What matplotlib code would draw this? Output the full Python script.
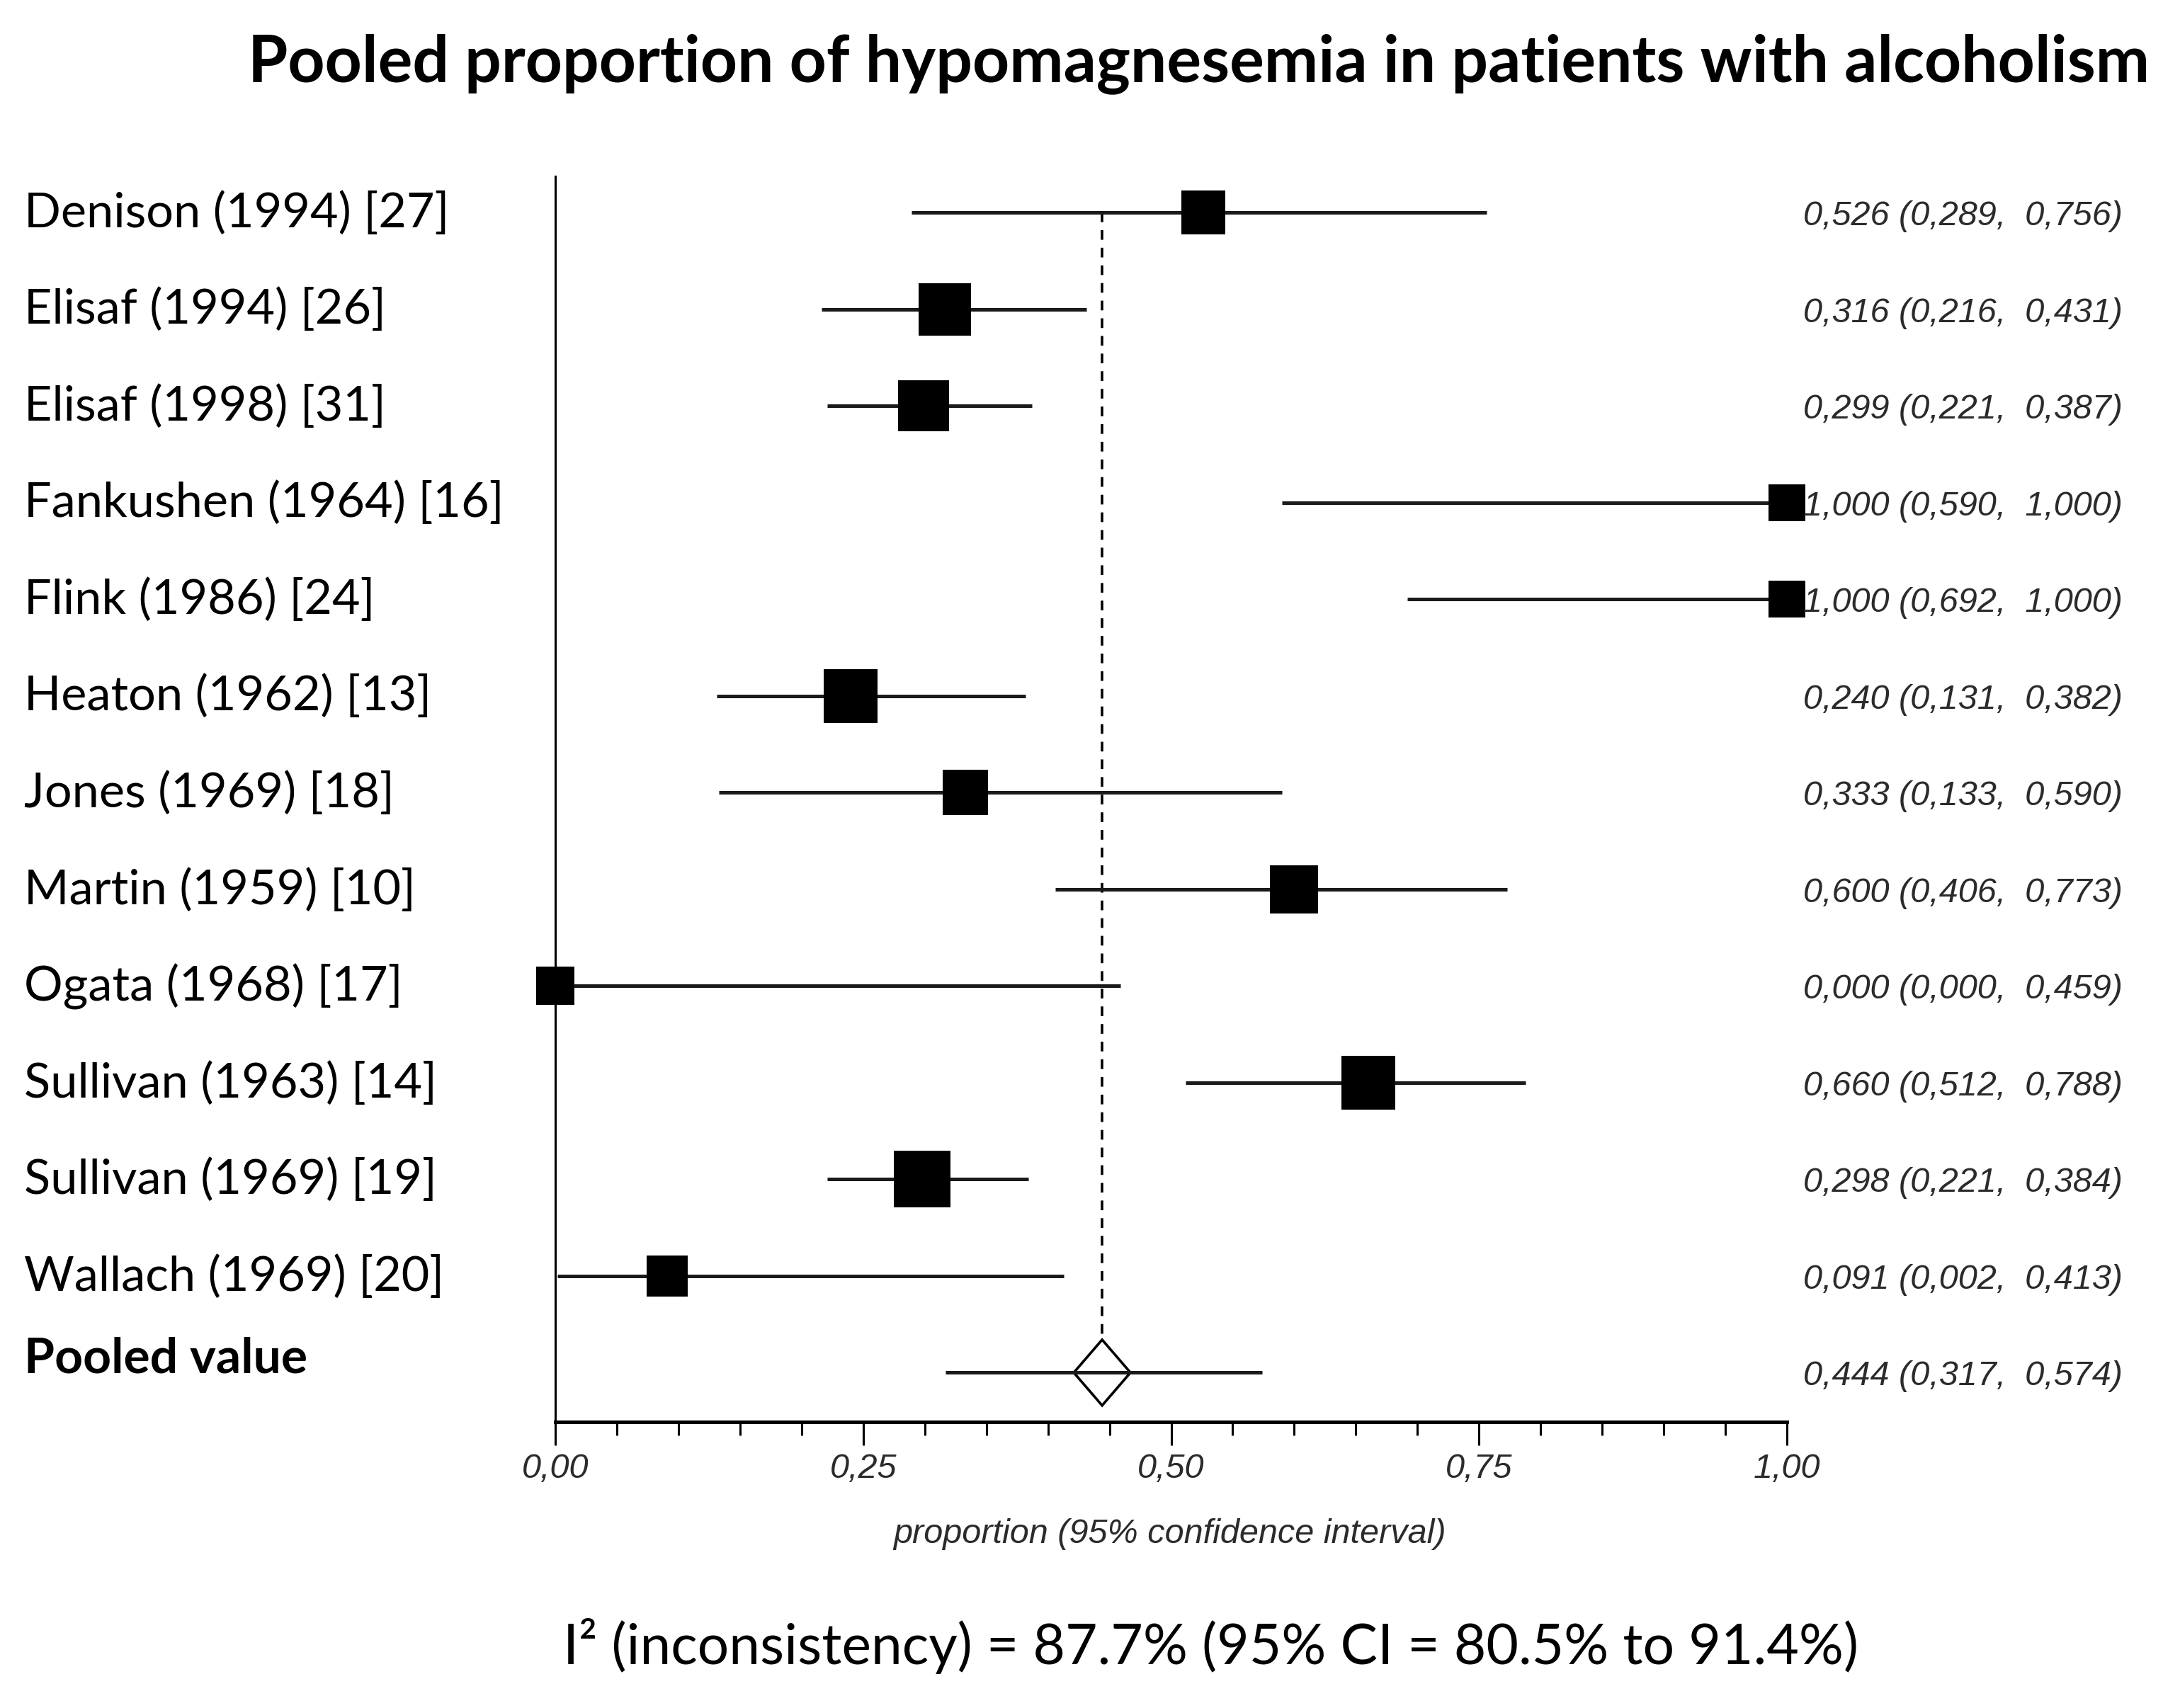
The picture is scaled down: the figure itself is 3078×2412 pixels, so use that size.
import matplotlib.pyplot as plt
from matplotlib.patches import Polygon
from matplotlib.ticker import MultipleLocator, FixedLocator, FixedFormatter

# study data
studies = ['Denison (1994) [27]', 'Elisaf (1994) [26]', 'Elisaf (1998) [31]',
           'Fankushen (1964) [16]', 'Flink (1986) [24]', 'Heaton (1962) [13]',
           'Jones (1969) [18]', 'Martin (1959) [10]', 'Ogata (1968) [17]',
           'Sullivan (1963) [14]', 'Sullivan (1969) [19]', 'Wallach (1969) [20]']
prop = [0.526, 0.316, 0.299, 1.000, 1.000, 0.240,
        0.333, 0.600, 0.000, 0.660, 0.298, 0.091]
ci_low = [0.289, 0.216, 0.221, 0.590, 0.692, 0.131,
          0.133, 0.406, 0.000, 0.512, 0.221, 0.002]
ci_high = [0.756, 0.431, 0.387, 1.000, 1.000, 0.382,
           0.590, 0.773, 0.459, 0.788, 0.384, 0.413]
# relative study weights
weights = [0.78, 0.93, 0.90, 0.65, 0.65, 0.94,
           0.79, 0.86, 0.68, 0.94, 1.00, 0.73]

pooled = 0.444
pooled_low = 0.317
pooled_high = 0.574

xticks = [0.0, 0.25, 0.5, 0.75, 1.0]
xtick_labels = ['0,00', '0,25', '0,50', '0,75', '1,00']

title = 'Pooled proportion of hypomagnesemia in patients with alcoholism'
footer = 'I\u00b2 (inconsistency) = 87.7% (95% CI = 80.5% to 91.4%)'

label_font = 'Lato'
num_font = 'Liberation Sans'
num_color = '#2b2b2b'
num_size = 17.5


def fmt(v):
    return f'{v:.3f}'.replace('.', ',')


fig = plt.figure(figsize=(15.39, 12.06), dpi=200)
ax = fig.add_axes([0.2547, 0.1675, 0.565, 0.7293])

n = len(studies)
rows = list(range(n))
pooled_row = n

ax.set_xlim(0, 1)
ax.set_ylim(n + 0.51, -0.374)

# dashed reference line at the pooled value
hh = 0.34
hw = 0.023
ax.vlines(pooled, 0, pooled_row - hh, colors='black', lw=1.3,
          linestyles=(0, (3.8, 3.1)), zorder=1)

# confidence intervals and boxes
ax.hlines(rows, ci_low, ci_high, colors='#1a1a1a', lw=1.8, zorder=2)
for r, p, w in zip(rows, prop, weights):
    ax.plot(p, r, marker='s', color='black', markersize=28.8 * w,
            mew=0, clip_on=False, zorder=3)

# pooled diamond
diamond = Polygon([(pooled - hw, pooled_row), (pooled, pooled_row - hh),
                   (pooled + hw, pooled_row), (pooled, pooled_row + hh)],
                  closed=True, facecolor='white', edgecolor='black',
                  lw=1.3, zorder=3)
ax.add_patch(diamond)
ax.hlines(pooled_row, pooled_low, pooled_high, colors='#1a1a1a',
          lw=1.8, zorder=4)

# study labels on the left
for r, s in zip(rows, studies):
    ax.annotate(s, xy=(0.011, r), xycoords=('figure fraction', 'data'),
                xytext=(0, -7.5), textcoords='offset points',
                ha='left', va='baseline', fontsize=24.6,
                fontfamily=label_font, annotation_clip=False)
ax.annotate('Pooled value', xy=(0.011, pooled_row),
            xycoords=('figure fraction', 'data'),
            xytext=(0, 0), textcoords='offset points',
            ha='left', va='baseline', fontsize=25, fontweight='bold',
            fontfamily=label_font, annotation_clip=False)

# estimates on the right
for r, p, lo, hi in zip(rows, prop, ci_low, ci_high):
    ax.annotate(f'{fmt(p)} ({fmt(lo)},  {fmt(hi)})', xy=(1.0, r),
                xytext=(8.3, -6.5), textcoords='offset points',
                ha='left', va='baseline', fontsize=num_size, style='italic',
                family=num_font, color=num_color, annotation_clip=False)
ax.annotate(f'{fmt(pooled)} ({fmt(pooled_low)},  {fmt(pooled_high)})',
            xy=(1.0, pooled_row), xytext=(8.3, -6.5),
            textcoords='offset points', ha='left', va='baseline',
            fontsize=num_size, style='italic', family=num_font,
            color=num_color, annotation_clip=False)

# axes styling
for side in ['top', 'right']:
    ax.spines[side].set_visible(False)
ax.spines['left'].set_linewidth(1.1)
ax.spines['bottom'].set_linewidth(1.8)
ax.set_yticks([])
ax.xaxis.set_major_locator(FixedLocator(xticks))
ax.xaxis.set_major_formatter(FixedFormatter(xtick_labels))
ax.xaxis.set_minor_locator(MultipleLocator(0.05))
ax.tick_params(axis='x', which='major', direction='out', length=12,
               width=1.1, pad=4, labelsize=num_size, labelcolor=num_color)
ax.tick_params(axis='x', which='minor', direction='out', length=7, width=1.1)
for lab in ax.get_xticklabels():
    lab.set_family(num_font)
    lab.set_style('italic')

fig.text(0.5365, 0.1016, 'proportion (95% confidence interval)',
         ha='center', va='center', fontsize=num_size, style='italic',
         family=num_font, color=num_color)

fig.text(0.5500, 0.9523, title, ha='center', va='baseline', fontsize=32.8,
         fontweight='bold', fontfamily=label_font)
fig.text(0.5555, 0.0257, footer, ha='center', va='baseline', fontsize=28.3,
         fontfamily=label_font)

fig.savefig('out.png', dpi=200, facecolor='white')
